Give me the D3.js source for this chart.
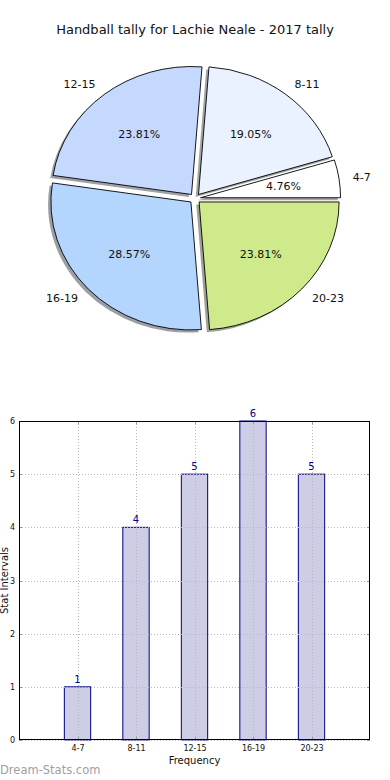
<!DOCTYPE html>
<html>
<head>
<meta charset="utf-8">
<script src="https://cdn.jsdelivr.net/npm/d3@7"></script>
<style>
  body { margin: 0; background: #fff; }
  svg { display: block; font-family: "DejaVu Sans", sans-serif; }
</style>
</head>
<body>
<svg id="chart" width="390" height="780"></svg>
<script>
// data
var categories = ["4-7", "8-11", "12-15", "16-19", "20-23"];
var tally = [1, 4, 5, 6, 5];
var pieColors = ["#ffffff", "#eaf2ff", "#c5d9fe", "#b3d5fe", "#cfea8a"];
var yTicks = [0, 1, 2, 3, 4, 5, 6];
var title = "Handball tally for Lachie Neale - 2017 tally";

var svg = d3.select("#chart");

// title
svg.append("text")
	.attr("x", 195)
	.attr("y", 34)
	.attr("text-anchor", "middle")
	.style("font-size", "13px")
	.style("fill", "#111")
	.text(title);

// ---- pie (matplotlib-ish, stretched to an ellipse) ----
var cx = 195, cy = 198.5, rx = 140, ry = 128;
var explode = 0.04;
var total = d3.sum(tally);

var pie = d3.pie().sort(null).value(function(d) { return d; });
var slices = pie(tally).map(function(s, i) {
	// matplotlib: start at 3 o'clock, counter clockwise
	var t0 = s.startAngle, t1 = s.endAngle;
	var tm = (t0 + t1) / 2;
	return {
		i: i,
		value: s.value,
		t0: t0, t1: t1, tm: tm,
		ox: cx + explode * rx * Math.cos(tm),
		oy: cy - explode * ry * Math.sin(tm)
	};
});

var arc = d3.arc()
	.innerRadius(0)
	.outerRadius(1)
	.startAngle(function(d) { return Math.PI / 2 - d.t1; })
	.endAngle(function(d) { return Math.PI / 2 - d.t0; });

var pieG = svg.append("g");

// shadows under everything
pieG.selectAll("path.shadow")
	.data(slices)
	.enter()
	.append("path")
	.attr("class", "shadow")
	.attr("d", arc)
	.attr("transform", function(d) {
		return "translate(" + (d.ox - 2.8) + "," + (d.oy + 2.6) + ") scale(" + rx + "," + ry + ")";
	})
	.attr("fill", function(d) {
		var c = d3.rgb(pieColors[d.i]);
		return d3.rgb(c.r * 0.3, c.g * 0.3, c.b * 0.3).toString();
	})
	.attr("fill-opacity", 0.5)
	.attr("stroke", "none");

pieG.selectAll("path.wedge")
	.data(slices)
	.enter()
	.append("path")
	.attr("class", "wedge")
	.attr("d", arc)
	.attr("transform", function(d) {
		return "translate(" + d.ox + "," + d.oy + ") scale(" + rx + "," + ry + ")";
	})
	.attr("fill", function(d) { return pieColors[d.i]; })
	.attr("stroke", "#000")
	.attr("stroke-width", 0.9)
	.attr("vector-effect", "non-scaling-stroke");

// category labels at 1.1 r
pieG.selectAll("text.lab")
	.data(slices)
	.enter()
	.append("text")
	.attr("class", "lab")
	.attr("x", function(d) { return d.ox + 1.1 * rx * Math.cos(d.tm); })
	.attr("y", function(d) { return d.oy - 1.1 * ry * Math.sin(d.tm); })
	.attr("dy", "0.36em")
	.attr("text-anchor", function(d) { return Math.cos(d.tm) > 0 ? "start" : "end"; })
	.style("font-size", "11px")
	.style("fill", "#111")
	.text(function(d) { return categories[d.i]; });

// percentages at 0.6 r
pieG.selectAll("text.pct")
	.data(slices)
	.enter()
	.append("text")
	.attr("class", "pct")
	.attr("x", function(d) { return d.ox + 0.6 * rx * Math.cos(d.tm); })
	.attr("y", function(d) { return d.oy - 0.6 * ry * Math.sin(d.tm); })
	.attr("dy", "0.36em")
	.attr("text-anchor", "middle")
	.style("font-size", "11px")
	.style("fill", "#111")
	.text(function(d) { return (d.value / total * 100).toFixed(2) + "%"; });

// ---- bar chart ----
var plotL = 19, plotR = 370, plotT = 421, plotB = 740;
var x = d3.scaleLinear().domain([-1, categories.length]).range([plotL, plotR]);
var y = d3.scaleLinear().domain([0, 6]).range([plotB, plotT]);
var barW = 0.45;

var barG = svg.append("g");

barG.selectAll("rect.bar")
	.data(tally)
	.enter()
	.append("rect")
	.attr("class", "bar")
	.attr("x", function(d, i) { return x(i - barW / 2); })
	.attr("y", function(d) { return y(d); })
	.attr("width", function() { return x(barW) - x(0); })
	.attr("height", function(d) { return y(0) - y(d); })
	.attr("fill", "#cdcde6")
	.attr("stroke", "#000080")
	.attr("stroke-width", 1);

// grid
var grid = barG.append("g")
	.attr("stroke", "#b8b8b8")
	.attr("stroke-width", 1)
	.attr("stroke-dasharray", "1,2");
grid.selectAll("line.v")
	.data(categories)
	.enter()
	.append("line")
	.attr("class", "v")
	.attr("x1", function(d, i) { return Math.round(x(i)) + 0.5; })
	.attr("x2", function(d, i) { return Math.round(x(i)) + 0.5; })
	.attr("y1", plotT)
	.attr("y2", plotB);
grid.selectAll("line.h")
	.data(yTicks)
	.enter()
	.append("line")
	.attr("class", "h")
	.attr("x1", plotL)
	.attr("x2", plotR)
	.attr("y1", function(d) { return Math.round(y(d)) + 0.5; })
	.attr("y2", function(d) { return Math.round(y(d)) + 0.5; });

// inner tick marks on all sides
var ticks = barG.append("g").attr("stroke", "#999").attr("stroke-width", 1);
categories.forEach(function(c, i) {
	var px = Math.round(x(i)) + 0.5;
	ticks.append("line").attr("x1", px).attr("x2", px).attr("y1", plotB).attr("y2", plotB - 3);
	ticks.append("line").attr("x1", px).attr("x2", px).attr("y1", plotT).attr("y2", plotT + 3);
});
yTicks.forEach(function(t) {
	var py = Math.round(y(t)) + 0.5;
	ticks.append("line").attr("x1", plotL).attr("x2", plotL + 3).attr("y1", py).attr("y2", py);
	ticks.append("line").attr("x1", plotR).attr("x2", plotR - 3).attr("y1", py).attr("y2", py);
});

// frame
barG.append("rect")
	.attr("x", plotL + 0.5)
	.attr("y", plotT + 0.5)
	.attr("width", plotR - plotL - 1)
	.attr("height", plotB - plotT - 1)
	.attr("fill", "none")
	.attr("stroke", "#000")
	.attr("stroke-width", 1);

// value labels
barG.selectAll("text.val")
	.data(tally)
	.enter()
	.append("text")
	.attr("class", "val")
	.attr("x", function(d, i) { return x(i); })
	.attr("y", function(d) { return y(d) - 4; })
	.attr("text-anchor", "middle")
	.style("font-size", "10px")
	.style("fill", "#00008b")
	.text(function(d) { return d; });

// axes (labels only)
var xAxis = d3.axisBottom(x)
	.tickValues(d3.range(categories.length))
	.tickFormat(function(i) { return categories[i]; })
	.tickSize(0)
	.tickPadding(5);
var xg = svg.append("g").attr("transform", "translate(0," + plotB + ")").call(xAxis);
xg.attr("font-family", null);
xg.select(".domain").remove();
xg.selectAll("text").style("font-size", "8px").style("fill", "#111");

var yAxis = d3.axisLeft(y).tickValues(yTicks).tickFormat(d3.format("d")).tickSize(0).tickPadding(4);
var yg = svg.append("g").attr("transform", "translate(" + plotL + ",0)").call(yAxis);
yg.attr("font-family", null);
yg.select(".domain").remove();
yg.selectAll("text").style("font-size", "8px").style("fill", "#111");

svg.append("text")
	.attr("x", (plotL + plotR) / 2)
	.attr("y", 764)
	.attr("text-anchor", "middle")
	.style("font-size", "10px")
	.style("fill", "#111")
	.text("Frequency");

svg.append("text")
	.attr("transform", "translate(7.5," + (plotT + plotB) / 2 + ") rotate(-90)")
	.attr("text-anchor", "middle")
	.style("font-size", "10px")
	.style("fill", "#111")
	.text("Stat Intervals");

// watermark
svg.append("text")
	.attr("x", 0)
	.attr("y", 774)
	.style("font-size", "11.5px")
	.style("fill", "#a0a0a0")
	.text("Dream-Stats.com");
</script>
</body>
</html>
